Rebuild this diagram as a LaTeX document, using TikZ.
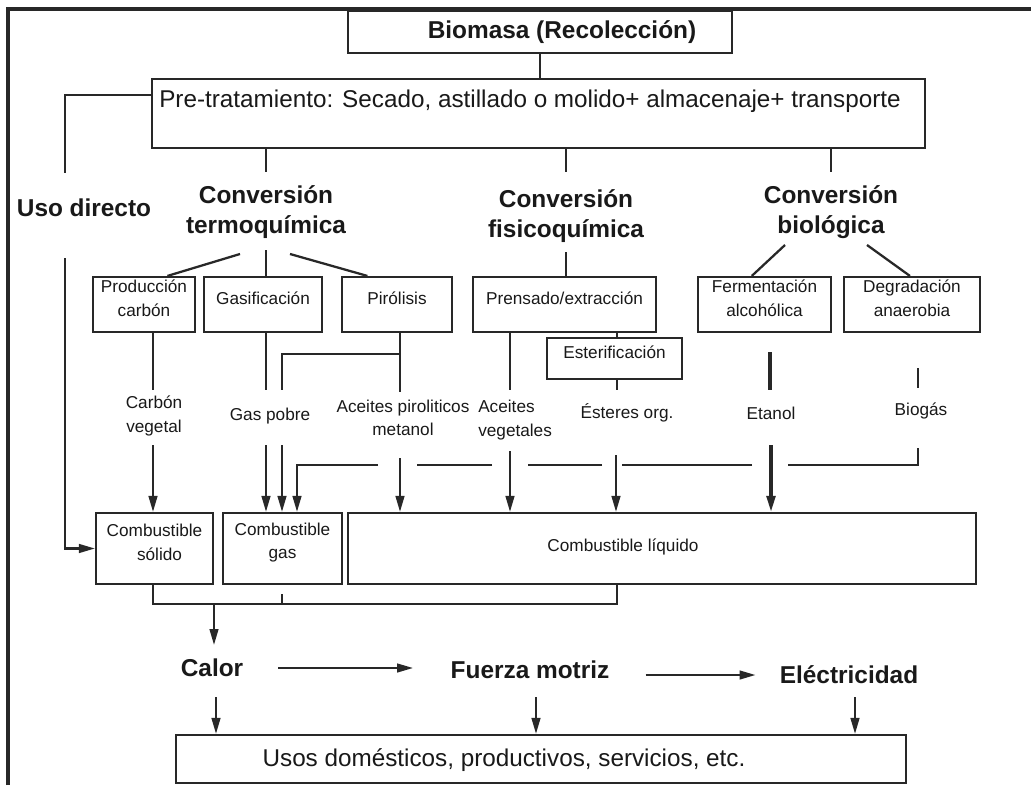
\documentclass[tikz,border=0pt]{standalone}
\usepackage{fontspec}
\setmainfont{Liberation Sans}
\usetikzlibrary{arrows.meta,fit,calc}

\definecolor{ink}{RGB}{40,40,40}
\definecolor{txt}{RGB}{25,25,25}

\tikzset{
  box/.style={draw=ink, line width=1.6pt, inner sep=0pt, fill=white},
  big/.style={font=\fontsize{18.3pt}{22.5pt}\selectfont\bfseries, text=txt, align=center, inner sep=0pt},
  reg/.style={font=\fontsize{18.2pt}{22pt}\selectfont, text=txt, inner sep=0pt},
  small/.style={font=\fontsize{12.9pt}{17.5pt}\selectfont, text=txt, align=center, inner sep=0pt},
  link/.style={draw=ink, line width=1.7pt},
  heavy/.style={draw=ink, line width=2.4pt},
  arr/.style={link, -{Triangle[length=12pt,width=6.5pt]}},
}

\begin{document}
\begin{tikzpicture}[x=0.75pt, y=-0.75pt]
\useasboundingbox (0,0) rectangle (1031,785);
\fill[white] (0,0) rectangle (1031,785);

% outer frame (left and top edges)
\draw[ink, line width=2.3pt] (8,785) -- (8,9) -- (1031,9);

% ---- top boxes
\node[box, fit={(348,11) (732,53)}] (bio) {};
\node[big] (bioT) at (562,32) {Biomasa (Recolección)};
\node[box, fit={(152,79) (925,148)}] (pre) {};
\node[reg] (preT) at (530,101) {Pre-tratamiento: Secado, astillado o molido+ almacenaje+ transporte};

% ---- conversion routes
\node[big] (uso) at (84,208) {Uso directo};
\node[big] (termo) at (266,212) {Conversión\\termoquímica};
\node[big] (fisico) at (566,216) {Conversión\\fisicoquímica};
\node[big] (biol) at (831,212) {Conversión\\biológica};

% ---- processes
\node[box, small, align=left, fit={(93,277) (195,332)}] (prod) {Producción\\carbón};
\node[box, small, fit={(204,277) (322,332)}] (gasi) {Gasificación};
\node[box, small, fit={(342,277) (452,332)}] (piro) {Pirólisis};
\node[box, small, fit={(473,277) (656,332)}] (pren) {Prensado/extracción};
\node[box, small, fit={(698,277) (831,332)}] (ferm) {Fermentación\\alcohólica};
\node[box, small, fit={(844,277) (980,332)}] (degr) {Degradación\\anaerobia};
\node[box, small, fit={(547,338) (682,379)}] (este) {Esterificación};

% ---- products
\node[small] (carbV) at (154,416) {Carbón\\vegetal};
\node[small] (gasP) at (270,416) {Gas pobre};
\node[small] (acPir) at (403,418) {Aceites piroliticos\\metanol};
\node[small, align=left, anchor=west] (acVeg) at (478,420) {Aceites\\vegetales};
\node[small] (ester) at (627,413) {Ésteres org.};
\node[small] (etanol) at (771,413) {Etanol};
\node[small] (biogas) at (921,411) {Biogás};

% ---- fuels
\node[box, small, align=left, fit={(96,513) (213,584)}] (csol) {Combustible\\\hspace*{7.5pt}sólido};
\node[box, small, fit={(223,513) (342,584)}] (cgas) {Combustible\\gas};
\node[box, fit={(348,513) (976,584)}] (cliq) {};
\node[small] (cliqT) at (623,547) {Combustible líquido};

% ---- energy and uses
\node[big] (calor) at (212,668) {Calor};
\node[big] (fuerza) at (530,670) {Fuerza motriz};
\node[big] (elec) at (849,675) {Eléctricidad};
\node[box, fit={(176,735) (906,783)}] (usos) {};
\node[reg] (usosT) at (504,760) {Usos domésticos, productivos, servicios, etc.};

% ================= connectors
\draw[link] (bio.south) -- (bio.south |- pre.north);

% direct use
\coordinate (ud0) at (65,95);
\coordinate (ud1) at (65,173);
\coordinate (ud2) at (65,258);
\draw[link] (ud0 -| pre.west) -- (ud0) -- (ud1);
\draw[arr] (ud2) |- (csol.west);

% pre-treatment to the three conversions
\coordinate (t0) at (266,172);
\coordinate (f0) at (566,172);
\coordinate (b0) at (831,172);
\draw[link] (t0 |- pre.south) -- (t0);
\draw[link] (f0 |- pre.south) -- (f0);
\draw[link] (b0 |- pre.south) -- (b0);

% thermochemical fan
\coordinate (t1) at (240,254);
\coordinate (t2) at (266,250);
\coordinate (t3) at (290,254);
\draw[link] (t1) -- ($(prod.north west)!.725!(prod.north east)$);
\draw[link] (t2) -- (t2 |- gasi.north);
\draw[link] (t3) -- ($(piro.north west)!.236!(piro.north east)$);

% physicochemical
\coordinate (f1) at (566,252);
\draw[link] (f1) -- (f1 |- pren.north);

% biological fan
\coordinate (b1) at (785,245);
\coordinate (b2) at (867,245);
\draw[link] (b1) -- ($(ferm.north west)!.406!(ferm.north east)$);
\draw[link] (b2) -- ($(degr.north west)!.485!(degr.north east)$);

% processes to products
\coordinate (cv0) at (153,390);
\coordinate (gp0) at (266,390);
\coordinate (gp1) at (282,390);
\coordinate (ap0) at (400,392);
\coordinate (ap1) at (400,354);
\coordinate (av0) at (510,390);
\coordinate (es0) at (617,390);
\draw[link] (cv0 |- prod.south) -- (cv0);
\draw[link] (gp0 |- gasi.south) -- (gp0);
\draw[link] (ap0 |- piro.south) -- (ap0);
\draw[link] (ap1) -| (gp1);
\draw[link] (av0 |- pren.south) -- (av0);
\draw[link] (es0 |- pren.south) -- (es0 |- este.north);
\draw[link] (es0 |- este.south) -- (es0);
\coordinate (et0) at (770,352);
\coordinate (et1) at (770,390);
\draw[heavy] (et0) -- (et1);
\coordinate (bg0) at (918,368);
\coordinate (bg1) at (918,388);
\draw[link] (bg0) -- (bg1);

% products to fuels
\coordinate (cv1) at (153,445);
\coordinate (gp2) at (266,445);
\coordinate (gp3) at (282,445);
\coordinate (ap2) at (400,458);
\coordinate (av1) at (510,451);
\coordinate (es1) at (616,455);
\coordinate (et2) at (771,445);
\draw[arr] (cv1) -- (cv1 |- csol.north);
\draw[arr] (gp2) -- (gp2 |- cgas.north);
\draw[arr] (gp3) -- (gp3 |- cgas.north);
\draw[arr] (ap2) -- (ap2 |- cliq.north);
\draw[arr] (av1) -- (av1 |- cliq.north);
\draw[arr] (es1) -- (es1 |- cliq.north);
\draw[arr, line width=2.4pt] (et2) -- (et2 |- cliq.north);

% biogas collector to the gas fuel, broken where it crosses the arrows
\coordinate (bg2) at (918,448);
\coordinate (k1) at (788,465);
\coordinate (k2) at (752,465);
\coordinate (k3) at (622,465);
\coordinate (k4) at (602,465);
\coordinate (k5) at (528,465);
\coordinate (k6) at (492,465);
\coordinate (k7) at (417,465);
\coordinate (k8) at (378,465);
\coordinate (k9) at (297,465);
\draw[link] (bg2) |- (k1);
\draw[link] (k2) -- (k3);
\draw[link] (k4) -- (k5);
\draw[link] (k6) -- (k7);
\draw[arr] (k8) -| (k9 |- cgas.north);

% fuels to heat
\coordinate (m0) at (153,604);
\coordinate (m1) at (617,604);
\coordinate (m2) at (282,604);
\coordinate (m3) at (282,594);
\coordinate (m4) at (214,604);
\coordinate (m5) at (214,645);
\draw[link] (m0 |- csol.south) -- (m0) -- (m1) -- (m1 |- cliq.south);
\draw[link] (m2) -- (m3);
\draw[arr] (m4) -- (m5);

% energy chain
\draw[arr, shorten <=26pt, shorten >=28pt] (calor.east) -- (calor.east -| fuerza.west);
\draw[arr, shorten <=27pt, shorten >=18pt] (elec.west -| fuerza.east) -- (elec.west);

% energy to uses
\coordinate (u0) at (216,697);
\coordinate (u1) at (536,697);
\coordinate (u2) at (855,697);
\draw[arr] (u0) -- (u0 |- usos.north);
\draw[arr] (u1) -- (u1 |- usos.north);
\draw[arr] (u2) -- (u2 |- usos.north);
\end{tikzpicture}
\end{document}
